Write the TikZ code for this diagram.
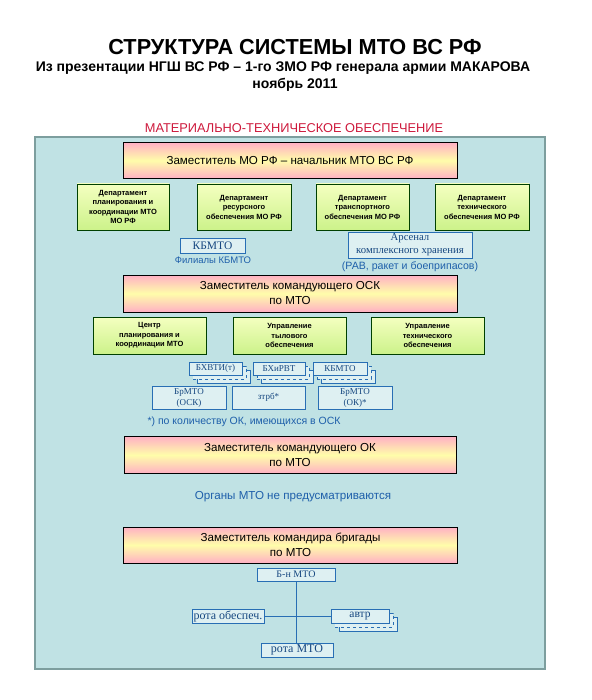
\documentclass[tikz,border=0pt]{standalone}
\usepackage{fontspec}
\setmainfont{Liberation Sans}
\newfontfamily\tmsfont{Liberation Serif}
\usetikzlibrary{shadows}
\definecolor{panelfill}{RGB}{192,226,228}
\definecolor{paneldraw}{RGB}{125,158,158}
\definecolor{chiefpink}{RGB}{255,176,196}
\definecolor{chiefyellow}{RGB}{255,253,170}
\definecolor{depttop}{RGB}{244,255,192}
\definecolor{deptbot}{RGB}{204,242,138}
\definecolor{unitfill}{RGB}{222,240,242}
\definecolor{unitdraw}{RGB}{40,110,180}
\definecolor{bluetext}{RGB}{30,95,170}
\definecolor{redtext}{RGB}{205,25,60}
\tikzset{
	panel/.style={draw=paneldraw, fill=panelfill, line width=1.5pt},
	chief/.style={draw=black, line width=0.8pt, top color=chiefpink, bottom color=chiefpink,
		middle color=chiefyellow, minimum width=334pt, minimum height=36pt, inner sep=0pt,
		align=center, font=\fontsize{11.6}{15}\selectfont},
	dept/.style={draw=black!75!green, line width=0.8pt, top color=depttop, bottom color=deptbot,
		minimum height=46pt, inner sep=0pt, align=center, font=\fontsize{7.5}{9.5}\selectfont\bfseries},
	unit/.style={draw=unitdraw, line width=0.8pt, fill=unitfill, inner sep=0pt, align=center,
		text=bluetext!75!black, font=\tmsfont\fontsize{9}{11}\selectfont},
	stackbox/.style={unit, minimum height=13pt,
		copy shadow={shadow xshift=8pt, shadow yshift=-8pt, draw=unitdraw, fill=unitfill, line width=0.8pt},
		copy shadow={shadow xshift=4pt, shadow yshift=-4pt, draw=unitdraw, fill=unitfill, line width=0.8pt, dashed}},
	note/.style={text=bluetext, font=\fontsize{9.5}{11}\selectfont},
	link/.style={draw=unitdraw, line width=1pt}
}

\begin{document}
\begin{tikzpicture}[x=1pt,y=-1pt]
	\useasboundingbox (0,0) rectangle (591,700);

	% headings
	\node (title) at (295,47) {\fontsize{21.7}{26}\selectfont\bfseries СТРУКТУРА СИСТЕМЫ МТО ВС РФ};
	\node (sub) at (283,68) {\fontsize{14}{16}\selectfont\bfseries Из презентации НГШ ВС РФ – 1-го ЗМО РФ генерала армии МАКАРОВА};
	\node (date) at (295,85) {\fontsize{14}{16}\selectfont\bfseries ноябрь 2011};
	\node[text=redtext] (head) at (294,128) {\fontsize{12.8}{15}\selectfont МАТЕРИАЛЬНО-ТЕХНИЧЕСКОЕ ОБЕСПЕЧЕНИЕ};

	\draw[panel] (35,137) rectangle (545,669);

	% Minoborony
	\node[chief] (mo) at (290,160.5) {Заместитель МО РФ – начальник МТО ВС РФ};
	\node[dept, minimum width=92pt] (d1) at (123,207) {Департамент\\планирования и\\координации МТО\\МО РФ};
	\node[dept, minimum width=94pt] (d2) at (244,207) {Департамент\\ресурсного\\обеспечения МО РФ};
	\node[dept, minimum width=93pt] (d3) at (362.5,207) {Департамент\\транспортного\\обеспечения МО РФ};
	\node[dept, minimum width=94pt] (d4) at (482,207) {Департамент\\технического\\обеспечения МО РФ};
	\node[unit, minimum width=65pt, minimum height=15pt, font=\tmsfont\fontsize{11.5}{13}\selectfont] (kb) at (212.5,245.5) {КБМТО};
	\node[note] (kbf) at (213,260) {Филиалы КБМТО};
	\node[unit, minimum width=124pt, minimum height=26pt, font=\tmsfont\fontsize{10.7}{13}\selectfont] (ars) at (410,245) {Арсенал\\комплексного хранения};
	\node[note, font=\fontsize{10.6}{12}\selectfont] (arsn) at (410,266.5) {(РАВ, ракет и боеприпасов)};

	% OSK
	\node[chief, minimum height=37pt] (osk) at (290,293.5) {Заместитель командующего ОСК\\по МТО};
	\node[dept, minimum width=113pt, minimum height=37pt] (c1) at (149.5,335.5) {Центр\\планирования и\\координации МТО};
	\node[dept, minimum width=113pt, minimum height=37pt] (c2) at (289.5,335.5) {Управление\\тылового\\обеспечения};
	\node[dept, minimum width=113pt, minimum height=37pt] (c3) at (427.5,335.5) {Управление\\технического\\обеспечения};
	\node[stackbox, minimum width=53pt] (bx1) at (215.5,368.5) {БХВТИ(т)};
	\node[stackbox, minimum width=52pt] (bx2) at (279,368.5) {БХиРВТ};
	\node[stackbox, minimum width=54pt] (bx3) at (340,368.5) {КБМТО};
	\node[unit, minimum width=74pt, minimum height=23pt] (br1) at (189,397.5) {БрМТО\\(ОСК)};
	\node[unit, minimum width=73pt, minimum height=23pt] (ztrb) at (268.5,397.5) {зтрб*};
	\node[unit, minimum width=74pt, minimum height=23pt] (br2) at (355,397.5) {БрМТО\\(ОК)*};
	\node[note, anchor=west, font=\fontsize{10.5}{12}\selectfont] (star) at (144,422) {*) по количеству ОК, имеющихся в ОСК};

	% OK
	\node[chief, minimum width=332pt, minimum height=37pt] (ok) at (290,455) {Заместитель командующего ОК\\по МТО};
	\node[note, font=\fontsize{11.6}{13}\selectfont] (none) at (293,497) {Органы МТО не предусматриваются};

	% brigade
	\node[chief] (brig) at (290.5,545) {Заместитель командира бригады\\по МТО};
	\node[unit, minimum width=78pt, minimum height=13pt, font=\tmsfont\fontsize{10}{12}\selectfont] (bn) at (296,574.5) {Б-н МТО};
	\node[unit, minimum width=72pt, minimum height=14pt, font=\tmsfont\fontsize{12}{13}\selectfont] (rob) at (228,616) {рота обеспеч.};
	\node[stackbox, minimum width=58pt, minimum height=14pt, font=\tmsfont\fontsize{11.5}{13}\selectfont] (avtr) at (360,616) {автр};
	\node[unit, minimum width=72pt, minimum height=14pt, font=\tmsfont\fontsize{12}{13}\selectfont] (rmto) at (297,650) {рота МТО};

	\draw[link] (bn.south) -- (bn.south |- rmto.north);
	\draw[link] (rob.east) -- (avtr.west);
\end{tikzpicture}
\end{document}
